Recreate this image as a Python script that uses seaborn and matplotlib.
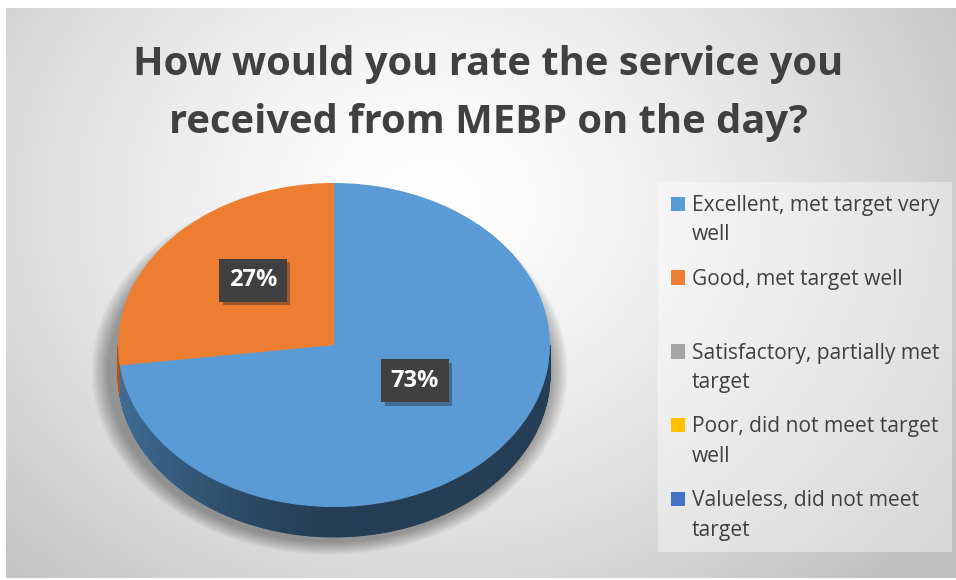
import textwrap
import numpy as np
import matplotlib
matplotlib.use("Agg")
import matplotlib.pyplot as plt
import matplotlib.patheffects as pe
from matplotlib.patches import Rectangle, Ellipse
from matplotlib.collections import PolyCollection
from matplotlib.colors import to_rgb
import seaborn as sns

# ---------------- data ----------------
title_lines = ["How would you rate the service you",
               "received from MEBP on the day?"]
categories = ["Excellent, met target very well",
              "Good, met target well",
              "Satisfactory, partially met target",
              "Poor, did not meet target well",
              "Valueless, did not meet target"]
shares = [73, 27, 0, 0, 0]
colors = ["#5B9BD5", "#ED7D31", "#A5A5A5", "#FFC000", "#4472C4"]

# ---------------- style ----------------
sns.set_theme(style="white")
plt.rcParams['font.family'] = ['Open Sans', 'DejaVu Sans']
palette = sns.color_palette(colors)

W, H = 956, 580
fig = plt.figure(figsize=(W / 100, H / 100), dpi=100)
fig.patch.set_facecolor("white")

# background radial gradient (chart area)
bg = fig.add_axes([0, 0, 1, 1])
bg.set_xlim(0, W)
bg.set_ylim(H, 0)
bg.axis("off")
x0, x1, y0, y1 = 6, W, 8, 578
yy, xx = np.mgrid[y0:y1, x0:x1]
r = np.hypot((xx - 430) / 1.0, (yy - 200) / 0.85)
v = 1.0 - 0.25 * np.clip(r / 640, 0, 1) ** 1.4
bg.imshow(np.dstack([v, v, v]), extent=(x0, x1, y1, y0), aspect="auto",
          interpolation="bilinear", zorder=0)

# ---------------- pie ----------------
CX, CY, RX, RY = 334, 345, 216, 162
DEPTH = 30 / RY
ax = fig.add_axes([0, 0, 1, 1])
ax.patch.set_alpha(0)
wedges, _ = ax.pie(shares, colors=palette, startangle=90, counterclock=False,
                   radius=1, center=(0, 0),
                   wedgeprops=dict(linewidth=0, zorder=3))
ax.set_aspect("auto")
ax.set_xlim(-CX / RX, (W - CX) / RX)
ax.set_ylim((CY - H) / RY, CY / RY)
ax.axis("off")

# soft shadow (mostly below / left of the pie)
for k in range(12):
    s = 1.0 + 0.0067 * (12 - k)
    ax.add_patch(Ellipse((-0.02, -0.16), 2 * s * 1.02, 2 * s * 1.05,
                         color="black", alpha=0.03, lw=0, zorder=0.5))

# side wall of the pie (lower half visible)
polys, pcols = [], []
for w_, col in zip(wedges, palette):
    t1, t2 = w_.theta1, w_.theta2
    if t2 - t1 <= 0:
        continue
    for shift in (-360, 0, 360):
        lo, hi = max(t1 + shift, -180), min(t2 + shift, 0)
        if hi <= lo:
            continue
        th = np.radians(np.linspace(lo, hi, max(int((hi - lo) * 2), 2)))
        base = np.array(to_rgb(col))
        for a, b in zip(th[:-1], th[1:]):
            xa, xb = np.cos(a), np.cos(b)
            ya, yb = np.sin(a), np.sin(b)
            xm = 0.5 * (xa + xb)
            f = 0.40 + 0.30 * np.clip(-xm, 0, 1) ** 1.5
            polys.append([(xa, ya), (xb, yb), (xb, yb - DEPTH), (xa, ya - DEPTH)])
            pcols.append(np.clip(base * f, 0, 1))
pc = PolyCollection(polys, facecolors=pcols, edgecolors=pcols, linewidths=0.6,
                    zorder=2)
ax.add_collection(pc)

# percentage labels
for w_, val in zip(wedges, shares):
    if val <= 0:
        continue
    mid = np.radians(0.5 * (w_.theta1 + w_.theta2))
    tx = ax.text(0.50 * np.cos(mid), 0.47 * np.sin(mid) + 0.09,
                 f"{val / sum(shares) * 100:.0f}%",
                 ha="center", va="center", color="white",
                 fontsize=17, fontweight="bold", zorder=6,
                 bbox=dict(boxstyle="square,pad=0.4", fc="#404040", ec="none"))
    tx.get_bbox_patch().set_path_effects(
        [pe.SimplePatchShadow(offset=(2.5, -2.5), alpha=0.35), pe.Normal()])

# ---------------- overlay (title + legend) ----------------
ov = fig.add_axes([0, 0, 1, 1])
ov.patch.set_alpha(0)
ov.set_xlim(0, W)
ov.set_ylim(H, 0)
ov.axis("off")

t_objs = []
for i, line in enumerate(title_lines):
    t_objs.append(ov.text(488, 75 + 58 * i, line, ha="center", va="baseline",
                          fontsize=30, fontweight="bold", color="#404040"))
renderer = fig.canvas.get_renderer()
wt = t_objs[0].get_window_extent(renderer).width
for t in t_objs:
    t.set_fontsize(30 * 710 / wt)

# legend
ov.add_patch(Rectangle((658, 182), 294, 370, fc="white", alpha=0.4, lw=0,
                       zorder=1))
leg_texts = []
for i, (lab, col) in enumerate(zip(categories, palette)):
    yb = 211 + i * 73.8
    ov.add_patch(Rectangle((671, yb - 14.5), 14.5, 14.5, fc=col, lw=0, zorder=2))
    for j, ln in enumerate(textwrap.wrap(lab, 27)):
        leg_texts.append(ov.text(692, yb + 29.5 * j, ln, ha="left",
                                 va="baseline", fontsize=14, color="#404040",
                                 zorder=3))
wl = leg_texts[0].get_window_extent(renderer).width
for t in leg_texts:
    t.set_fontsize(14 * 249 / wl)

fig.savefig("out.png", dpi=100)
